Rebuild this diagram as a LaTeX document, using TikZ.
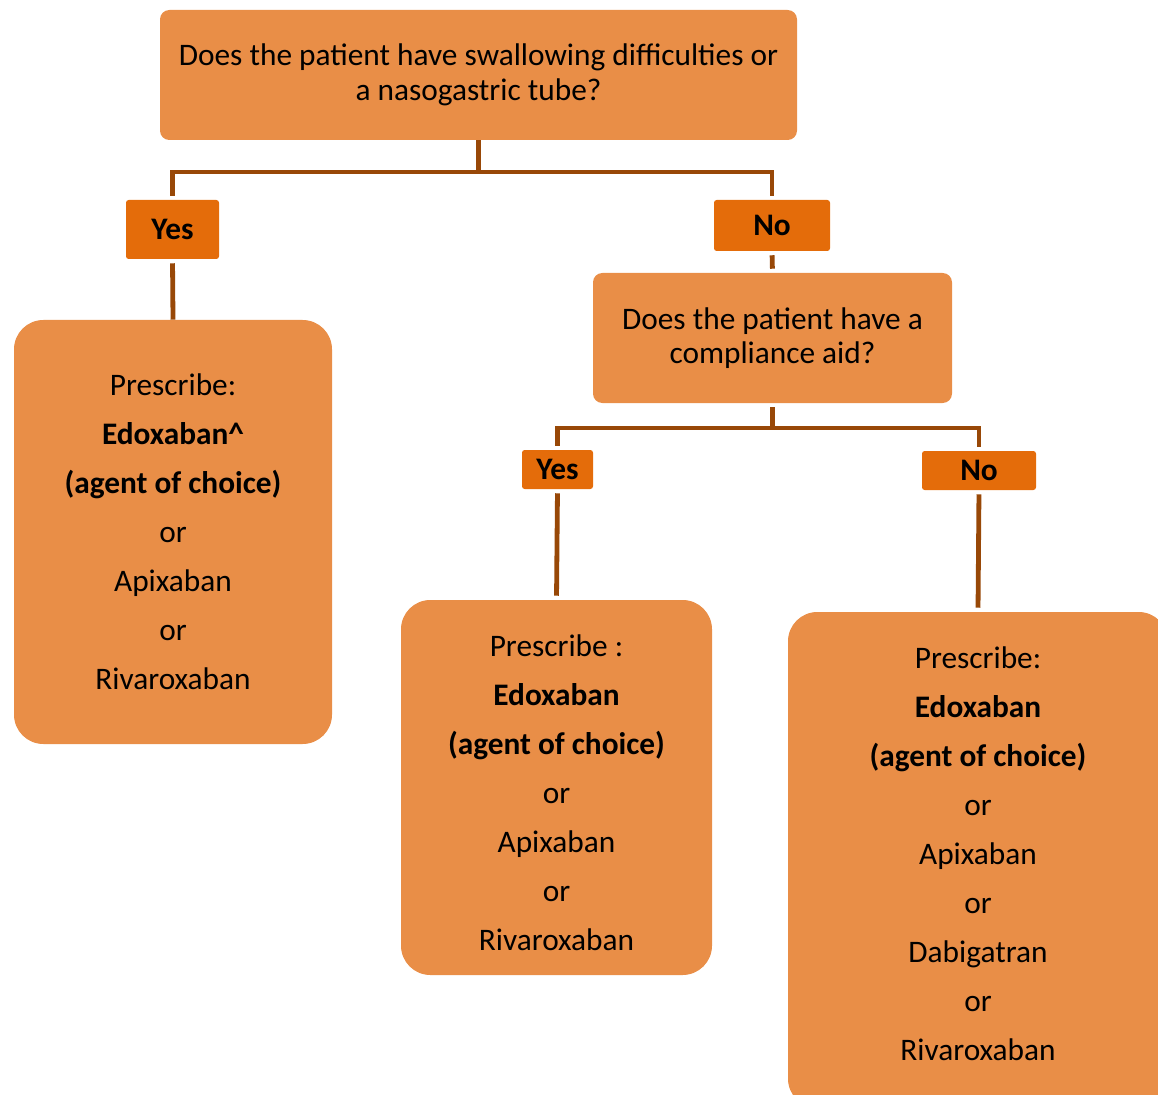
\documentclass[tikz,border=0pt]{standalone}
\usepackage{fontspec}
\setmainfont{Carlito}
\usepackage{tikz}
\usetikzlibrary{calc,positioning}
\definecolor{boxorange}{HTML}{E98E47}
\definecolor{tagorange}{HTML}{E46C0A}
\definecolor{linebrown}{HTML}{984807}

\begin{document}
\begin{tikzpicture}[x=0.75pt, y=-0.75pt,
  question/.style={rectangle, rounded corners=7pt, fill=boxorange, align=center, inner sep=2pt,
    font=\fontsize{23.5}{26}\selectfont},
  answer/.style={rectangle, rounded corners=2pt, fill=tagorange, inner sep=0pt,
    font=\fontsize{23.5}{26}\selectfont\bfseries},
  drug/.style={rectangle, rounded corners=22pt, fill=boxorange, align=center, inner sep=2pt,
    font=\fontsize{23.5}{36.75}\selectfont},
  link/.style={draw=linebrown, line width=3.6pt}]
\useasboundingbox (0,0) rectangle (1158,1095);
\node[question, minimum width=477.75pt, minimum height=97.5pt] (swallow) at (478.5,75)
  {Does the patient have swallowing difficulties or\\a nasogastric tube?};
\node[answer, minimum width=69.75pt, minimum height=44.25pt] (yesA) at (172.5,229.5) {Yes};
\node[answer, minimum width=87pt, minimum height=38.25pt] (noA) at (772,225.5) {No};
\node[drug, minimum width=238.5pt, minimum height=318pt] (rxA) at (173,532)
  {Prescribe:\\\textbf{Edoxaban\textasciicircum}\\\textbf{(agent of choice)}\\or\\Apixaban\\or\\Rivaroxaban};
\node[question, minimum width=269.25pt, minimum height=97.5pt] (aid) at (772.5,338)
  {Does the patient have a\\compliance aid?};
\node[answer, minimum width=53.25pt, minimum height=29.25pt] (yesB) at (557.5,469.5) {Yes};
\node[answer, minimum width=85.5pt, minimum height=29.25pt] (noB) at (979,470.5) {No};
\node[drug, minimum width=233.25pt, minimum height=281.25pt] (rxB) at (556.5,787.5)
  {\\[-12pt]Prescribe :\\\textbf{Edoxaban}\\\textbf{(agent of choice)}\\or\\Apixaban\\or\\Rivaroxaban};
\node[drug, minimum width=285pt, minimum height=372pt] (rxC) at (978,860)
  {Prescribe:\\\textbf{Edoxaban}\\\textbf{(agent of choice)}\\or\\Apixaban\\or\\Dabigatran\\or\\Rivaroxaban\\[-27pt]};
% branches
\coordinate (splitA) at (478.5,172);
\coordinate (splitB) at (772.5,428);
\draw[link] (swallow.south) -- (splitA);
\draw[link, shorten <=3pt] (yesA.north) |- (splitA) -| ([yshift=3pt]noA.north);
\draw[link, shorten <=3pt] (yesA.south) -- (rxA.north);
\draw[link, shorten <=3pt, shorten >=3pt] (noA.south) -- (aid.north);
\draw[link, shorten <=3pt] (aid.south) -- (splitB);
\draw[link, shorten <=3pt, shorten >=3pt] (yesB.north) |- (splitB) -| (noB.north);
\draw[link, shorten <=3pt, shorten >=3pt] (yesB.south) -- (rxB.north);
\draw[link, shorten <=3pt, shorten >=3pt] (noB.south) -- (rxC.north);
\end{tikzpicture}
\end{document}
